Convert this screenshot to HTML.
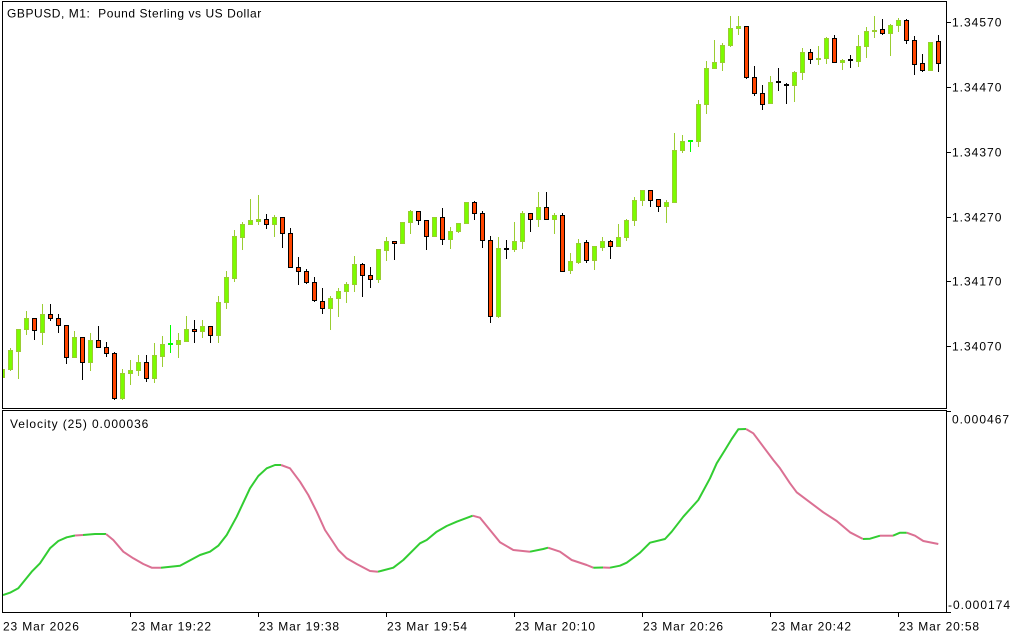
<!DOCTYPE html>
<html><head><meta charset="utf-8"><style>
html,body{margin:0;padding:0;background:#fff;}
svg{display:block;}
text{font-family:"Liberation Sans",Arial,sans-serif;font-size:12px;fill:#000;}
.n{letter-spacing:1px;}
.d{letter-spacing:0.85px;}
</style></head><body>
<svg width="1024" height="640" viewBox="0 0 1024 640" xmlns="http://www.w3.org/2000/svg">
<defs><clipPath id="cm"><rect x="3" y="2" width="943" height="406"/></clipPath>
<clipPath id="ci"><rect x="3" y="411" width="943" height="201"/></clipPath></defs>
<rect width="1024" height="640" fill="#fff"/>
<g shape-rendering="crispEdges">
<rect x="2.5" y="1.5" width="944" height="407" fill="none" stroke="#000"/>
<rect x="2.5" y="410.5" width="944" height="202" fill="none" stroke="#000"/>
<path d="M947 22.5H951M947 87.5H951M947 152.5H951M947 217.5H951M947 281.5H951M947 346.5H951M947 411.5H951M947 612.5H951M130.5 613V617M258.5 613V617M386.5 613V617M514.5 613V617M642.5 613V617M770.5 613V617M898.5 613V617" stroke="#000"/>
<g clip-path="url(#cm)">
<path fill="none" stroke="#9acd32" d="M2.5 369V378M10.5 348V371M18.5 329V379M26.5 311V335M42.5 304V345M74.5 331V358M90.5 333V371M122.5 369V400M130.5 360V385M138.5 355V376M154.5 343V383M162.5 336V367M178.5 333V358M186.5 316V342M202.5 320V338M218.5 296V343M226.5 271V309M234.5 230V282M242.5 222V250M250.5 199V225M258.5 195V225M274.5 215V237M330.5 296V330M338.5 288V317M346.5 282V303M354.5 256V292M378.5 249V283M386.5 237V261M402.5 222V244M410.5 210V234M434.5 217V237M450.5 227V249M458.5 223V233M466.5 202V224M498.5 237V318M514.5 222V252M522.5 211V249M538.5 192V227M554.5 213V234M570.5 253V274M578.5 239V264M594.5 246V270M602.5 237V251M618.5 224V247M626.5 219V241M634.5 197V226M642.5 190V206M666.5 200V223M674.5 133V203M682.5 135V153M698.5 100V147M706.5 61V114M714.5 40V69M722.5 43V71M730.5 16V47M738.5 16V35M770.5 76V104M794.5 71V102M802.5 48V80M818.5 46V65M826.5 37V64M842.5 59V70M858.5 35V67M866.5 27V58M874.5 16V38M890.5 24V56M898.5 18V32M930.5 42V71"/>
<path fill="none" stroke="#000" d="M34.5 318V340M50.5 304V321M58.5 314V333M66.5 325V364M82.5 337V380M98.5 326V348M106.5 342V357M114.5 352V400M146.5 355V382M194.5 320V343M210.5 326V343M266.5 214V229M282.5 217V248M290.5 228V268M298.5 257V285M306.5 269V284M314.5 277V302M322.5 288V314M362.5 263V297M370.5 267V288M394.5 241V260M418.5 211V225M426.5 220V250M442.5 208V245M474.5 201V220M482.5 211V248M490.5 236V323M530.5 213V232M546.5 192V220M562.5 213V272M586.5 240V263M610.5 240V259M650.5 190V207M658.5 199V212M746.5 26V79M754.5 66V96M762.5 85V110M810.5 49V64M834.5 35V63M882.5 19V35M906.5 19V44M914.5 36V75M922.5 54V72M938.5 35V72M506.5 240V259M778.5 68V91M786.5 83V104M850.5 55V68"/>
<path fill="none" stroke="#00ff00" d="M170.5 325V353M690.5 140V152"/>
<g fill="#7cfc00" stroke="#9acd32">
<rect x="0.5" y="369.5" width="4" height="8"/><rect x="8.5" y="350.5" width="4" height="19"/><rect x="16.5" y="329.5" width="4" height="22"/><rect x="24.5" y="318.5" width="4" height="11"/><rect x="40.5" y="314.5" width="4" height="18"/><rect x="72.5" y="337.5" width="4" height="20"/><rect x="88.5" y="340.5" width="4" height="22"/><rect x="120.5" y="373.5" width="4" height="25"/><rect x="128.5" y="370.5" width="4" height="3"/><rect x="136.5" y="362.5" width="4" height="8"/><rect x="152.5" y="355.5" width="4" height="23"/><rect x="160.5" y="344.5" width="4" height="12"/><rect x="176.5" y="340.5" width="4" height="4"/><rect x="184.5" y="329.5" width="4" height="12"/><rect x="200.5" y="326.5" width="4" height="5"/><rect x="216.5" y="302.5" width="4" height="33"/><rect x="224.5" y="277.5" width="4" height="25"/><rect x="232.5" y="236.5" width="4" height="42"/><rect x="240.5" y="224.5" width="4" height="13"/><rect x="248.5" y="220.5" width="4" height="4"/><rect x="256.5" y="219.5" width="4" height="2"/><rect x="272.5" y="217.5" width="4" height="7"/><rect x="328.5" y="298.5" width="4" height="10"/><rect x="336.5" y="291.5" width="4" height="7"/><rect x="344.5" y="284.5" width="4" height="7"/><rect x="352.5" y="264.5" width="4" height="20"/><rect x="376.5" y="249.5" width="4" height="30"/><rect x="384.5" y="241.5" width="4" height="9"/><rect x="400.5" y="222.5" width="4" height="21"/><rect x="408.5" y="211.5" width="4" height="11"/><rect x="432.5" y="217.5" width="4" height="19"/><rect x="448.5" y="231.5" width="4" height="8"/><rect x="456.5" y="223.5" width="4" height="8"/><rect x="464.5" y="202.5" width="4" height="21"/><rect x="496.5" y="248.5" width="4" height="68"/><rect x="512.5" y="241.5" width="4" height="8"/><rect x="520.5" y="213.5" width="4" height="28"/><rect x="536.5" y="207.5" width="4" height="12"/><rect x="552.5" y="215.5" width="4" height="4"/><rect x="568.5" y="261.5" width="4" height="9"/><rect x="576.5" y="243.5" width="4" height="19"/><rect x="592.5" y="246.5" width="4" height="14"/><rect x="600.5" y="241.5" width="4" height="6"/><rect x="616.5" y="237.5" width="4" height="9"/><rect x="624.5" y="220.5" width="4" height="17"/><rect x="632.5" y="200.5" width="4" height="20"/><rect x="640.5" y="190.5" width="4" height="10"/><rect x="664.5" y="202.5" width="4" height="4"/><rect x="672.5" y="150.5" width="4" height="52"/><rect x="680.5" y="141.5" width="4" height="9"/><rect x="696.5" y="104.5" width="4" height="37"/><rect x="704.5" y="68.5" width="4" height="36"/><rect x="712.5" y="62.5" width="4" height="6"/><rect x="720.5" y="45.5" width="4" height="17"/><rect x="728.5" y="28.5" width="4" height="17"/><rect x="736.5" y="26.5" width="4" height="2"/><rect x="768.5" y="82.5" width="4" height="21"/><rect x="792.5" y="72.5" width="4" height="13"/><rect x="800.5" y="52.5" width="4" height="20"/><rect x="816.5" y="58.5" width="4" height="1"/><rect x="824.5" y="38.5" width="4" height="20"/><rect x="840.5" y="60.5" width="4" height="2"/><rect x="856.5" y="46.5" width="4" height="15"/><rect x="864.5" y="31.5" width="4" height="15"/><rect x="872.5" y="30.5" width="4" height="1"/><rect x="888.5" y="25.5" width="4" height="8"/><rect x="896.5" y="20.5" width="4" height="5"/><rect x="928.5" y="42.5" width="4" height="28"/>
</g>
<g fill="#ff4500" stroke="#000">
<rect x="32.5" y="318.5" width="4" height="12"/><rect x="48.5" y="314.5" width="4" height="4"/><rect x="56.5" y="318.5" width="4" height="7"/><rect x="64.5" y="325.5" width="4" height="32"/><rect x="80.5" y="337.5" width="4" height="25"/><rect x="96.5" y="340.5" width="4" height="7"/><rect x="104.5" y="347.5" width="4" height="6"/><rect x="112.5" y="353.5" width="4" height="45"/><rect x="144.5" y="362.5" width="4" height="16"/><rect x="192.5" y="329.5" width="4" height="2"/><rect x="208.5" y="326.5" width="4" height="9"/><rect x="264.5" y="219.5" width="4" height="5"/><rect x="280.5" y="217.5" width="4" height="16"/><rect x="288.5" y="233.5" width="4" height="34"/><rect x="296.5" y="267.5" width="4" height="4"/><rect x="304.5" y="271.5" width="4" height="11"/><rect x="312.5" y="282.5" width="4" height="18"/><rect x="320.5" y="301.5" width="4" height="7"/><rect x="360.5" y="264.5" width="4" height="11"/><rect x="368.5" y="275.5" width="4" height="4"/><rect x="392.5" y="241.5" width="4" height="2"/><rect x="416.5" y="211.5" width="4" height="9"/><rect x="424.5" y="220.5" width="4" height="16"/><rect x="440.5" y="217.5" width="4" height="22"/><rect x="472.5" y="202.5" width="4" height="11"/><rect x="480.5" y="213.5" width="4" height="27"/><rect x="488.5" y="240.5" width="4" height="76"/><rect x="528.5" y="213.5" width="4" height="6"/><rect x="544.5" y="207.5" width="4" height="12"/><rect x="560.5" y="215.5" width="4" height="56"/><rect x="584.5" y="242.5" width="4" height="18"/><rect x="608.5" y="241.5" width="4" height="5"/><rect x="648.5" y="190.5" width="4" height="10"/><rect x="656.5" y="199.5" width="4" height="7"/><rect x="744.5" y="26.5" width="4" height="51"/><rect x="752.5" y="77.5" width="4" height="16"/><rect x="760.5" y="93.5" width="4" height="11"/><rect x="808.5" y="52.5" width="4" height="7"/><rect x="832.5" y="38.5" width="4" height="24"/><rect x="880.5" y="29.5" width="4" height="4"/><rect x="904.5" y="20.5" width="4" height="20"/><rect x="912.5" y="40.5" width="4" height="24"/><rect x="920.5" y="63.5" width="4" height="7"/><rect x="936.5" y="41.5" width="4" height="22"/>
</g>
<g fill="#000">
<rect x="504" y="248" width="5" height="2"/><rect x="776" y="81" width="5" height="2"/><rect x="784" y="84" width="5" height="2"/><rect x="848" y="59" width="5" height="2"/>
</g>
<g fill="#00ff00">
<rect x="168" y="343" width="5" height="2"/><rect x="688" y="140" width="5" height="2"/>
</g>
</g>
</g>
<g clip-path="url(#ci)" fill="none" stroke-width="2" stroke-linejoin="round">
<polyline stroke="#32cd32" points="3,595 10,592.7 18.3,588.3 25,580 31.7,571.7 40,563.3 50,548.3 58.3,541 66.7,537.3 75,535.5"/>
<polyline stroke="#db7093" points="75,535.5 83,535"/>
<polyline stroke="#32cd32" points="83,535 95,534 106,534"/>
<polyline stroke="#db7093" points="106,534 113.3,540 123.3,551.7 133.3,558.3 143.3,564 151.7,567.7 161,567.7"/>
<polyline stroke="#32cd32" points="161,567.7 180,565.7 200,555 210,551.7 218.3,545.7 226.7,535 236.7,516.7 250,488.3 258.3,476 266.7,468.3 275,465 281,465"/>
<polyline stroke="#db7093" points="281,465 290,468.3 300,481.7 308.3,495 316.7,511.7 325,530 331.7,540 338.3,550 346.7,558.3 356.7,564 370,571 378,571.7"/>
<polyline stroke="#32cd32" points="378,571.7 393.3,567.7 403.3,560 415,548.3 420,543.3 426.7,540 436.7,531.7 446.7,526 456.7,521.7 472.7,515.7"/>
<polyline stroke="#db7093" points="472.7,515.7 480,517.7 490,530 500,542.3 513.3,550 530,551.7"/>
<polyline stroke="#32cd32" points="530,551.7 543.3,549 548,547.7"/>
<polyline stroke="#db7093" points="548,547.7 560,551.7 571.7,560 586.7,565 593.3,567.7"/>
<polyline stroke="#32cd32" points="593.3,567.7 603,567.5"/>
<polyline stroke="#db7093" points="603,567.5 610,567.7"/>
<polyline stroke="#32cd32" points="610,567.7 620,565.7 626.7,562.7 640,552.7 650,542.7 665,539 671.7,531.7 683.3,516.7 698.3,500 710,478.3 716.7,463.3 725,450 731.7,439 738.3,429.3 746,429"/>
<polyline stroke="#db7093" points="746,429 753.3,433.3 763.3,446.7 773.3,460 780,468.3 790,483.3 796.7,492.3 810,502.3 823.3,512.3 836.7,521 850,532.3 863,539"/>
<polyline stroke="#32cd32" points="863,539 870,538.7 880,535.7"/>
<polyline stroke="#db7093" points="880,535.7 893,535.7"/>
<polyline stroke="#32cd32" points="893,535.7 900,532.7 906.7,532.7"/>
<polyline stroke="#db7093" points="906.7,532.7 915,535.7 923.3,541 938.3,544"/>
</g>
<text x="7" y="17.5" style="letter-spacing:0.55px;white-space:pre" xml:space="preserve">GBPUSD, M1:  Pound Sterling vs US Dollar</text>
<text x="10" y="428" style="letter-spacing:0.9px">Velocity (25) 0.000036</text>
<text class="n" x="952" y="26.5">1.34570</text>
<text class="n" x="952" y="91.5">1.34470</text>
<text class="n" x="952" y="156.5">1.34370</text>
<text class="n" x="952" y="221.5">1.34270</text>
<text class="n" x="952" y="285.5">1.34170</text>
<text class="n" x="952" y="350.5">1.34070</text>
<text class="n" x="952" y="423.5">0.000467</text>
<text class="n" x="948" y="609">-0.000174</text>
<text class="d" x="3" y="630.5">23 Mar 2026</text>
<text class="d" x="131" y="630.5">23 Mar 19:22</text>
<text class="d" x="259" y="630.5">23 Mar 19:38</text>
<text class="d" x="387" y="630.5">23 Mar 19:54</text>
<text class="d" x="515" y="630.5">23 Mar 20:10</text>
<text class="d" x="643" y="630.5">23 Mar 20:26</text>
<text class="d" x="771" y="630.5">23 Mar 20:42</text>
<text class="d" x="899" y="630.5">23 Mar 20:58</text>
</svg>
</body></html>
